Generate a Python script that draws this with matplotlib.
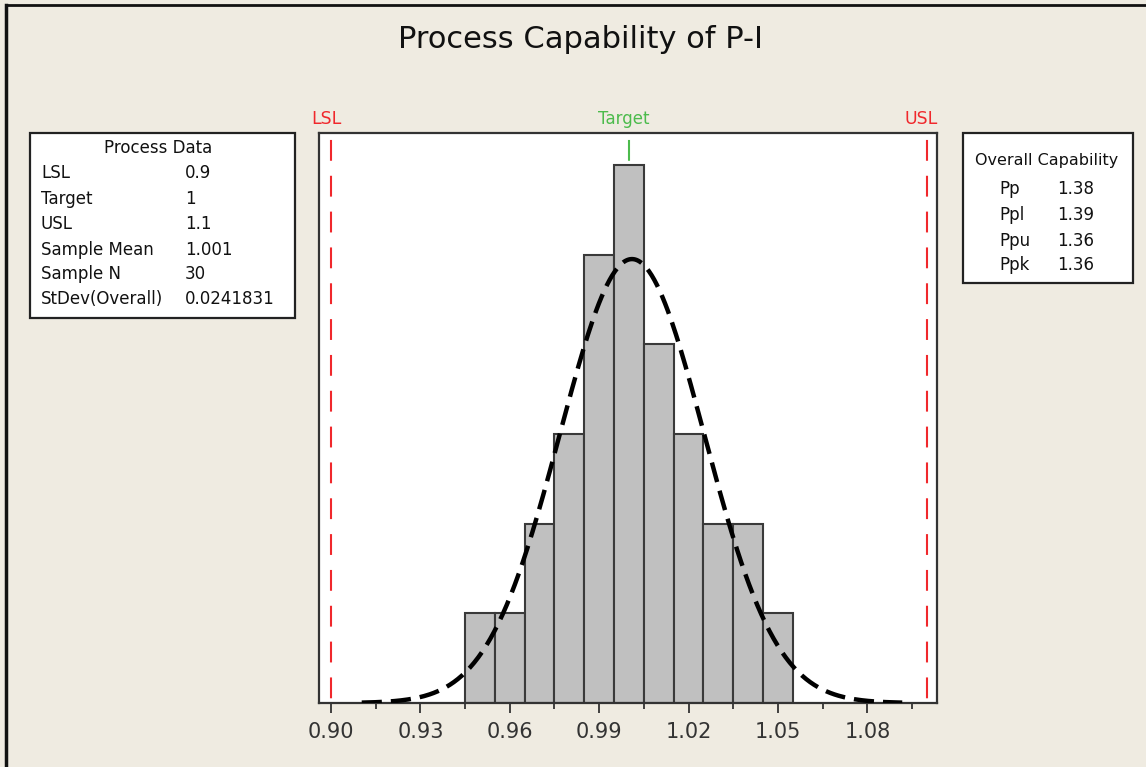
import numpy as np
import matplotlib
matplotlib.use("Agg")
import matplotlib.pyplot as plt
from matplotlib.patches import Rectangle
from matplotlib.lines import Line2D

# ---------------- data ----------------
title = "Process Capability of P-I"
bin_centers = [0.95, 0.96, 0.97, 0.98, 0.99, 1.00, 1.01, 1.02, 1.03, 1.04, 1.05]
counts = [1, 1, 2, 3, 5, 6, 4, 3, 2, 2, 1]
bin_width = 0.01
LSL = 0.9
target = 1.0
USL = 1.1
sample_mean = 1.001
sample_n = 30
stdev_overall = 0.0241831
major_ticks = [0.90, 0.93, 0.96, 0.99, 1.02, 1.05, 1.08]
major_labels = ["0.90", "0.93", "0.96", "0.99", "1.02", "1.05", "1.08"]
minor_ticks = [0.915, 0.945, 0.975, 1.005, 1.035, 1.065, 1.095]
process_labels = ["LSL", "Target", "USL", "Sample Mean", "Sample N", "StDev(Overall)"]
process_values = ["0.9", "1", "1.1", "1.001", "30", "0.0241831"]
cap_labels = ["Pp", "Ppl", "Ppu", "Ppk"]
cap_values = ["1.38", "1.39", "1.36", "1.36"]

# ---------------- style ----------------
plt.rcParams['font.family'] = ['DejaVu Sans']
plt.rcParams['lines.scale_dashes'] = False
W, H = 1146, 767
BG = '#EFEBE1'
RED = '#F0282C'
GREEN = '#4CBB4C'
DARK = '#222222'

def fx(px):
    return px / W

def fy(py):
    return 1 - py / H

fig = plt.figure(figsize=(W / 100, H / 100), dpi=100, facecolor=BG)

# window frame lines (top & left)
fig.add_artist(Line2D([fx(6), 1], [fy(5), fy(5)], color='#111111', lw=2, transform=fig.transFigure))
fig.add_artist(Line2D([fx(6), fx(6)], [fy(5), 0], color='#111111', lw=2.5, transform=fig.transFigure))

# ---------------- main axes ----------------
ax = fig.add_axes([fx(319), fy(703), fx(937) - fx(319), (703 - 133) / H])
ax.set_facecolor('white')
xmin = 0.9 - 12 / 2980
xmax = 0.9 + (937 - 331) / 2980
ytop = (703 - 133) / 89.7
ax.set_xlim(xmin, xmax)
ax.set_ylim(0, ytop)

dash_pat = (20.8, (15, 10.8))
# target line (behind bars)
ax.plot([target, target], [ytop, 0], color=GREEN, lw=1.5, linestyle=dash_pat, zorder=1)
# spec limits
ax.plot([LSL, LSL], [ytop, 0], color=RED, lw=1.5, linestyle=dash_pat, zorder=4)
ax.plot([USL, USL], [ytop, 0], color=RED, lw=1.5, linestyle=dash_pat, zorder=4)

# histogram
ax.bar(bin_centers, counts, width=bin_width, color='#C0C0C0', edgecolor='#3A3A3A',
       linewidth=1.5, zorder=2)

# fitted normal curve
xs = np.linspace(sample_mean - 3.75 * stdev_overall, sample_mean + 3.75 * stdev_overall, 400)
ys = sample_n * bin_width * np.exp(-0.5 * ((xs - sample_mean) / stdev_overall) ** 2) / (
    stdev_overall * np.sqrt(2 * np.pi))
ax.plot(xs, ys, color='black', lw=3.2, linestyle=(0, (14.5, 6.5)), zorder=5)

for s in ax.spines.values():
    s.set_color('#333333')
    s.set_linewidth(1.6)
ax.set_yticks([])
ax.set_xticks(major_ticks)
ax.set_xticklabels(major_labels)
ax.set_xticks(minor_ticks, minor=True)
ax.tick_params(axis='x', which='major', direction='out', length=7, width=1.3,
               color='#333333', labelsize=15, labelcolor='#333333', pad=6.5)
ax.tick_params(axis='x', which='minor', direction='out', length=4, width=1.3, color='#333333')

# spec labels above the axes
fig.text(fx(326), fy(119), "LSL", color=RED, fontsize=12.5, ha='center', va='center')
fig.text(fx(624), fy(119), "Target", color=GREEN, fontsize=12, ha='center', va='center')
fig.text(fx(921), fy(119), "USL", color=RED, fontsize=12.5, ha='center', va='center')

# title
fig.text(fx(580), fy(40), title, fontsize=22, color='#111111', ha='center', va='center')

# ---------------- Process Data box ----------------
fig.add_artist(Rectangle((fx(30), fy(318)), fx(295) - fx(30), (318 - 133) / H,
                         transform=fig.transFigure, facecolor='white', edgecolor=DARK, lw=1.6))
fig.text(fx(158), fy(148), "Process Data", fontsize=12, ha='center', va='center', color='#111111')
rows_y = [173, 199, 224, 250, 274, 299]
for lab, val, py in zip(process_labels, process_values, rows_y):
    fig.text(fx(41), fy(py), lab, fontsize=12, ha='left', va='center', color='#111111')
    fig.text(fx(185), fy(py), val, fontsize=12, ha='left', va='center', color='#111111')

# ---------------- Overall Capability box ----------------
fig.add_artist(Rectangle((fx(963), fy(283)), fx(1133) - fx(963), (283 - 133) / H,
                         transform=fig.transFigure, facecolor='white', edgecolor=DARK, lw=1.6))
fig.text(fx(1047), fy(160), "Overall Capability", fontsize=11.5, ha='center', va='center', color='#111111')
cap_y = [189, 215, 241, 265]
for lab, val, py in zip(cap_labels, cap_values, cap_y):
    fig.text(fx(999), fy(py), lab, fontsize=12, ha='left', va='center', color='#111111')
    fig.text(fx(1057), fy(py), val, fontsize=12, ha='left', va='center', color='#111111')

fig.savefig("out.png", dpi=100, facecolor=BG)
